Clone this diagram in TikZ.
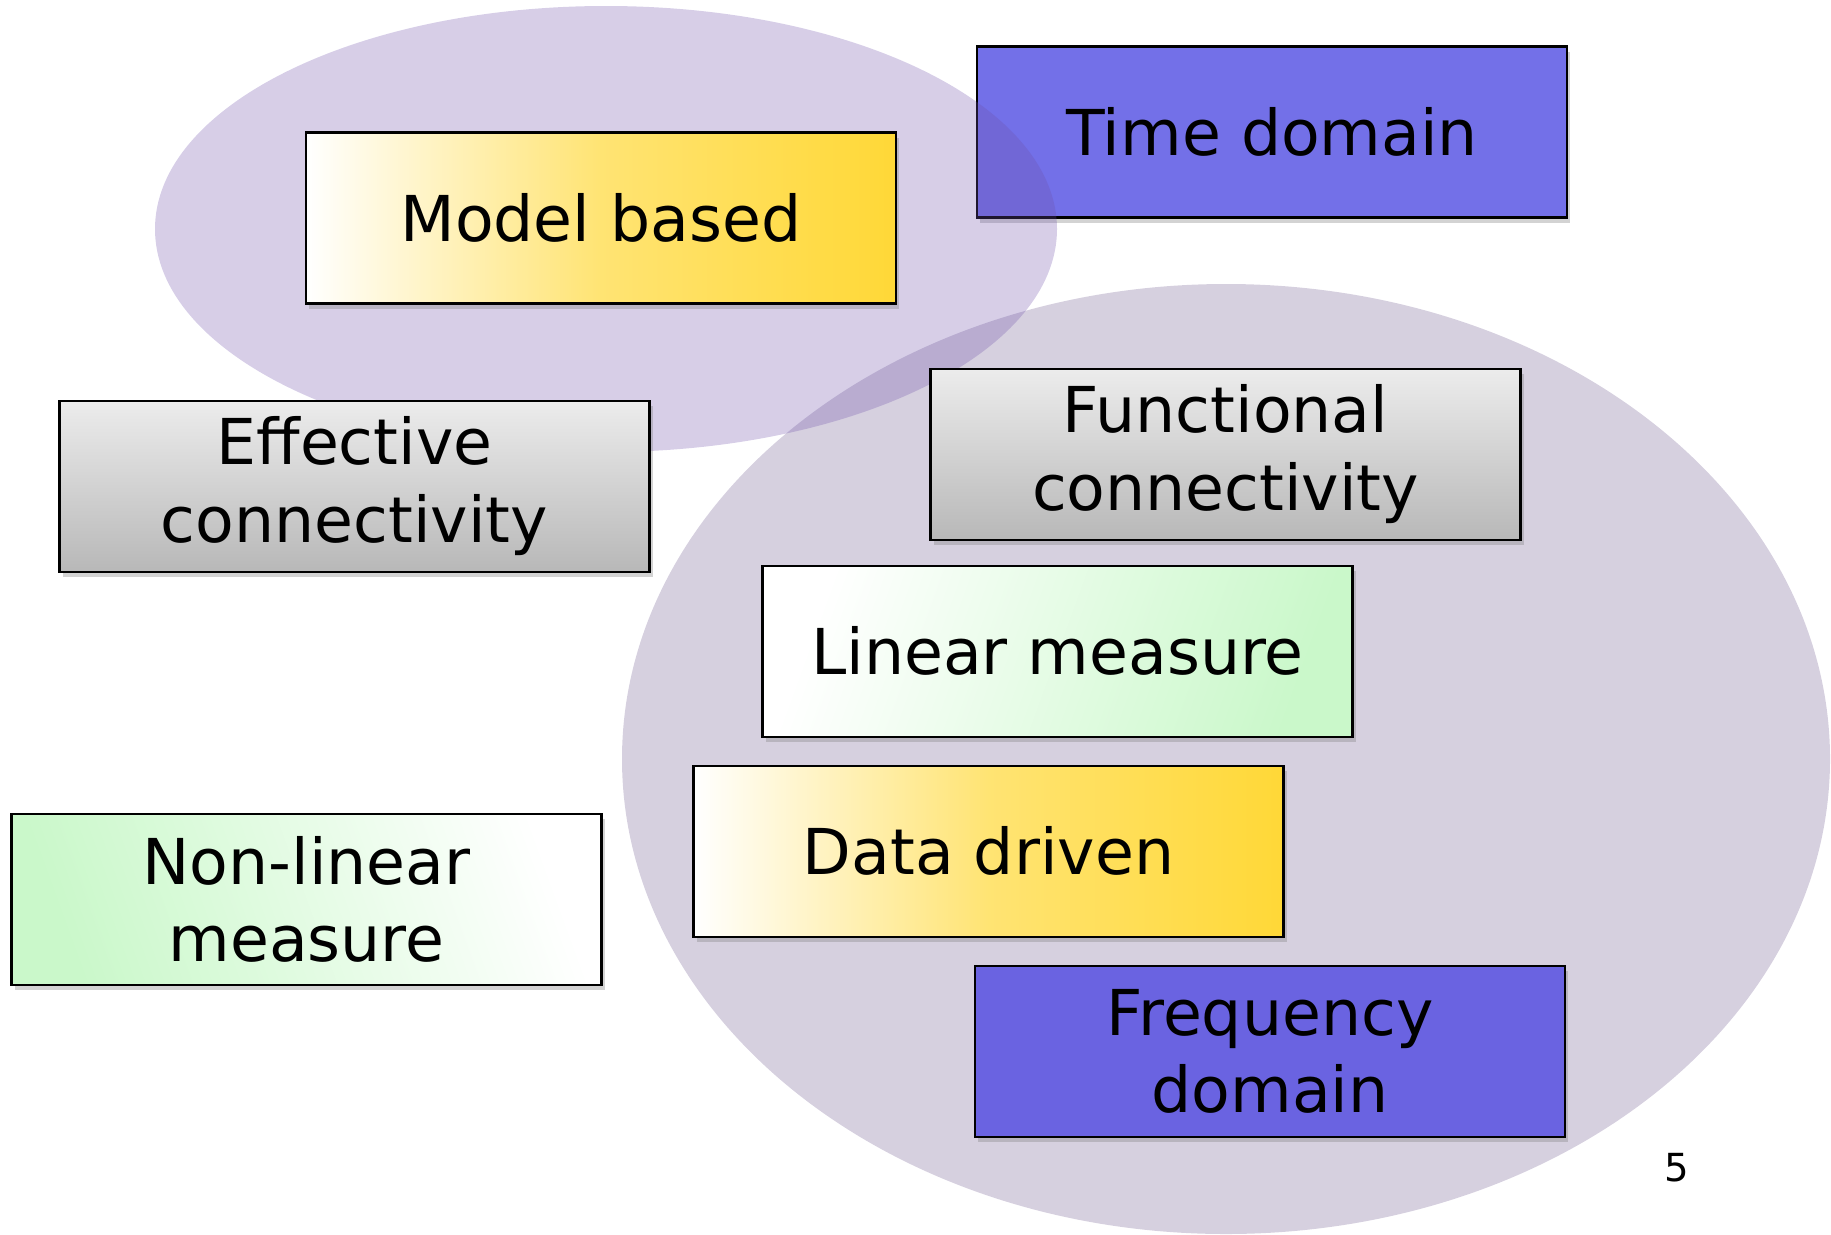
\documentclass[tikz,border=0pt]{standalone}
\usepackage{fontspec}
\setmainfont{DejaVu Sans}
\usepackage{tikz}
\usetikzlibrary{positioning,shadows}

\definecolor{topblob}{RGB}{110,80,170}
\definecolor{bottomblob}{RGB}{120,100,150}
\definecolor{timeblue}{RGB}{115,112,232}
\definecolor{freqblue}{RGB}{106,99,225}
\definecolor{goldfill}{RGB}{255,216,55}
\definecolor{greytop}{RGB}{236,236,236}
\definecolor{greybot}{RGB}{184,184,184}
\definecolor{mintfill}{RGB}{202,248,202}

\begin{document}
\begin{tikzpicture}[
        box/.style={
            draw,
            rectangle,
            line width=0.6pt,
            align=center,
            minimum width=5.9cm,
            minimum height=1.71cm,
            inner sep=2pt,
            font=\fontsize{18}{22}\selectfont,
            drop shadow={opacity=0.35, shadow xshift=0.03cm, shadow yshift=-0.05cm}
        },
        goldbox/.style={box, left color=white, right color=goldfill, middle color=goldfill!70!white},
        greybox/.style={box, top color=greytop, bottom color=greybot},
        blob/.style={fill opacity=0.3}
    ]
    \useasboundingbox (0,0) rectangle (18.31,12.34);

    % Background blobs
    \fill[blob, fill=bottomblob] (12.26,4.75) ellipse [x radius=6.04, y radius=4.75];

    \node[box, fill=freqblue] (freq) at (12.70,1.825) {Frequency\\domain};
    \node[box, fill=timeblue] (time) at (12.72,11.02) {Time domain};

    \fill[blob, fill=topblob, fill opacity=0.28] (6.06,10.05) ellipse [x radius=4.51, y radius=2.23];

    % Left column
    \node[goldbox] (model) at (6.01,10.16) {Model based};

    \node[greybox] (effective) [below=0.95cm of model, xshift=-2.465cm] {%
    Effective\\connectivity
    };

    \node[box, left color=mintfill, right color=white, shading angle=110] (nonlinear) [below=2.40cm of effective, xshift=-0.48cm] {%
    Non-linear\\measure
    };

    % Right column
    \node[greybox] (functional) [below=1.49cm of time, xshift=-0.465cm] {%
    Functional\\connectivity
    };

    \node[box, left color=white, right color=mintfill, shading angle=70] (linear) [below=0.24cm of functional, xshift=-1.68cm] {Linear measure};

    \node[goldbox] (data) [below=0.27cm of linear, xshift=-0.69cm] {Data driven};

    % Page number
    \node[font=\fontsize{11}{13}\selectfont] (page) at (16.77,0.66) {5};

\end{tikzpicture}
\end{document}
